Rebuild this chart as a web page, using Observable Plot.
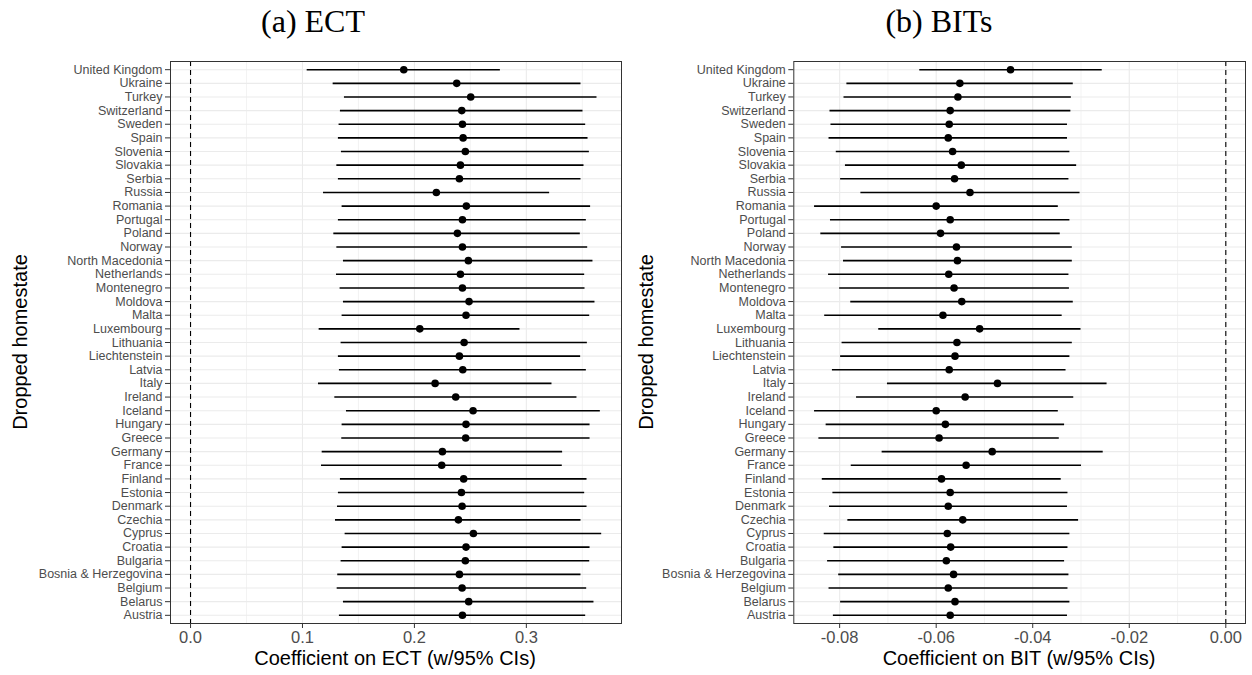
<!DOCTYPE html>
<html>
<head>
<meta charset="utf-8">
<script src="https://cdn.jsdelivr.net/npm/d3@7"></script>
<script src="https://cdn.jsdelivr.net/npm/@observablehq/plot@0.6"></script>
<style>
  body { margin: 0; background: #fff; }
  #wrap { position: relative; width: 1252px; height: 675px; overflow: hidden; font-family: "Liberation Sans", Arial, sans-serif; background: #fff; }
  .fig { position: absolute; top: 0; width: 626px; height: 675px; }
  .title { position: absolute; top: 5px; left: 0; width: 626px; text-align: center; font-family: "Liberation Serif", "Times New Roman", serif; font-size: 32px; line-height: 1; color: #000; }
  .plot { position: absolute; left: 0; top: 45px; }
  .xlab { position: absolute; top: 648px; font-size: 20px; line-height: 1; color: #000; white-space: nowrap; transform: translateX(-50%); }
  .ylab { position: absolute; top: 342px; font-size: 20px; line-height: 1; color: #000; white-space: nowrap; transform: translate(-50%, -50%) rotate(-90deg); }
</style>
</head>
<body>
<div id="wrap">
  <div class="fig" id="figA" style="left:0px;">
    <div class="title">(a) ECT</div>
    <div class="plot" id="plotA"></div>
    <div class="xlab" style="left:395px;">Coefficient on ECT (w/95% CIs)</div>
    <div class="ylab" style="left:20px;">Dropped homestate</div>
  </div>
  <div class="fig" id="figB" style="left:626px;">
    <div class="title">(b) BITs</div>
    <div class="plot" id="plotB"></div>
    <div class="xlab" style="left:393px;">Coefficient on BIT (w/95% CIs)</div>
    <div class="ylab" style="left:20px;">Dropped homestate</div>
  </div>
</div>
<script>
const countries = ["United Kingdom","Ukraine","Turkey","Switzerland","Sweden","Spain","Slovenia","Slovakia","Serbia","Russia","Romania","Portugal","Poland","Norway","North Macedonia","Netherlands","Montenegro","Moldova","Malta","Luxembourg","Lithuania","Liechtenstein","Latvia","Italy","Ireland","Iceland","Hungary","Greece","Germany","France","Finland","Estonia","Denmark","Czechia","Cyprus","Croatia","Bulgaria","Bosnia & Herzegovina","Belgium","Belarus","Austria"];

const ectEst = [0.1905,0.2378,0.2503,0.2423,0.2429,0.2435,0.2455,0.2411,0.2402,0.2196,0.2464,0.2429,0.2384,0.2429,0.2482,0.2411,0.2429,0.2488,0.2461,0.2048,0.2444,0.2402,0.2432,0.2185,0.2369,0.2524,0.2461,0.2458,0.2250,0.2244,0.2440,0.2420,0.2426,0.2393,0.2527,0.2461,0.2455,0.2402,0.2426,0.2485,0.2429];
const ectLo = [0.1042,0.1274,0.1375,0.1339,0.1327,0.1321,0.1348,0.1307,0.1321,0.1188,0.1354,0.1321,0.1280,0.1307,0.1366,0.1304,0.1336,0.1366,0.1354,0.1149,0.1345,0.1321,0.1330,0.1143,0.1289,0.1393,0.1354,0.1351,0.1176,0.1170,0.1339,0.1321,0.1313,0.1295,0.1381,0.1354,0.1345,0.1315,0.1310,0.1366,0.1330];
const ectHi = [0.2768,0.3488,0.3631,0.3506,0.3530,0.3551,0.3563,0.3515,0.3488,0.3208,0.3574,0.3536,0.3482,0.3548,0.3595,0.3521,0.3524,0.3613,0.3566,0.2943,0.3545,0.3485,0.3536,0.3229,0.3452,0.3661,0.3569,0.3569,0.3324,0.3321,0.3542,0.3521,0.3542,0.3488,0.3673,0.3569,0.3566,0.3488,0.3539,0.3604,0.3530];

const bitEst = [-0.0446,-0.0551,-0.0555,-0.0571,-0.0573,-0.0575,-0.0566,-0.0548,-0.0562,-0.0530,-0.0600,-0.0571,-0.0591,-0.0558,-0.0556,-0.0574,-0.0563,-0.0547,-0.0586,-0.0510,-0.0557,-0.0561,-0.0573,-0.0473,-0.0540,-0.0600,-0.0581,-0.0594,-0.0484,-0.0538,-0.0589,-0.0571,-0.0575,-0.0545,-0.0577,-0.0570,-0.0579,-0.0564,-0.0575,-0.0561,-0.0571];
const bitLo = [-0.0634,-0.0785,-0.0791,-0.0820,-0.0818,-0.0822,-0.0807,-0.0788,-0.0798,-0.0756,-0.0852,-0.0819,-0.0839,-0.0796,-0.0792,-0.0823,-0.0800,-0.0777,-0.0831,-0.0719,-0.0795,-0.0798,-0.0815,-0.0701,-0.0765,-0.0852,-0.0828,-0.0843,-0.0712,-0.0776,-0.0836,-0.0814,-0.0821,-0.0783,-0.0832,-0.0812,-0.0825,-0.0802,-0.0822,-0.0798,-0.0813];
const bitHi = [-0.0256,-0.0316,-0.0320,-0.0321,-0.0328,-0.0328,-0.0323,-0.0309,-0.0325,-0.0302,-0.0347,-0.0323,-0.0343,-0.0318,-0.0318,-0.0325,-0.0324,-0.0316,-0.0339,-0.0300,-0.0318,-0.0323,-0.0331,-0.0246,-0.0315,-0.0347,-0.0334,-0.0345,-0.0254,-0.0299,-0.0341,-0.0327,-0.0328,-0.0305,-0.0323,-0.0327,-0.0334,-0.0325,-0.0327,-0.0323,-0.0328];

const ectTicks = [0, 0.1, 0.2, 0.3];
const ectMinor = [0.05, 0.15, 0.25, 0.35];
const bitTicks = [-0.08, -0.06, -0.04, -0.02, 0.00];
const bitMinor = [-0.07, -0.05, -0.03, -0.01];

function panel({est, lo, hi, domain, major, minor, digits, ml, mr}) {
  const data = countries.map((c, i) => ({c, est: est[i], lo: lo[i], hi: hi[i]}));
  return Plot.plot({
    width: 626,
    height: 630,
    marginTop: 16,
    marginBottom: 52,
    marginLeft: ml,
    marginRight: mr,
    style: {fontFamily: '"Liberation Sans", Arial, sans-serif', background: "#fff", overflow: "visible"},
    x: {domain, label: null},
    y: {type: "point", domain: countries, padding: 0.6, round: false, label: null},
    marks: [
      Plot.ruleX(minor, {stroke: "#ebebeb", strokeWidth: 0.6}),
      Plot.ruleX(major, {stroke: "#ebebeb", strokeWidth: 1.1}),
      Plot.ruleY(countries, {stroke: "#ebebeb", strokeWidth: 1.1}),
      Plot.ruleX([0], {stroke: "#000", strokeWidth: 1.1, strokeDasharray: "5,4"}),
      Plot.ruleY(data, {y: "c", x1: "lo", x2: "hi", stroke: "#000", strokeWidth: 1.6}),
      Plot.dot(data, {y: "c", x: "est", r: 3.8, fill: "#000", stroke: "none"}),
      Plot.frame({stroke: "#333", strokeWidth: 1}),
      Plot.axisX(major, {tickSize: 5, tickPadding: 3, fontSize: 16.5, stroke: "#333", fill: "#4d4d4d", tickFormat: d => d.toFixed(digits), label: null}),
      Plot.axisY({tickSize: 5, tickPadding: 3, fontSize: 12.5, stroke: "#333", fill: "#4d4d4d", label: null})
    ]
  });
}

document.getElementById("plotA").append(panel({
  est: ectEst, lo: ectLo, hi: ectHi,
  domain: [-0.0179, 0.385], major: ectTicks, minor: ectMinor, digits: 1, ml: 170, mr: 5
}));
document.getElementById("plotB").append(panel({
  est: bitEst, lo: bitLo, hi: bitHi,
  domain: [-0.0895, 0.00408], major: bitTicks, minor: bitMinor, digits: 2, ml: 167.3, mr: 7
}));
</script>
</body>
</html>
